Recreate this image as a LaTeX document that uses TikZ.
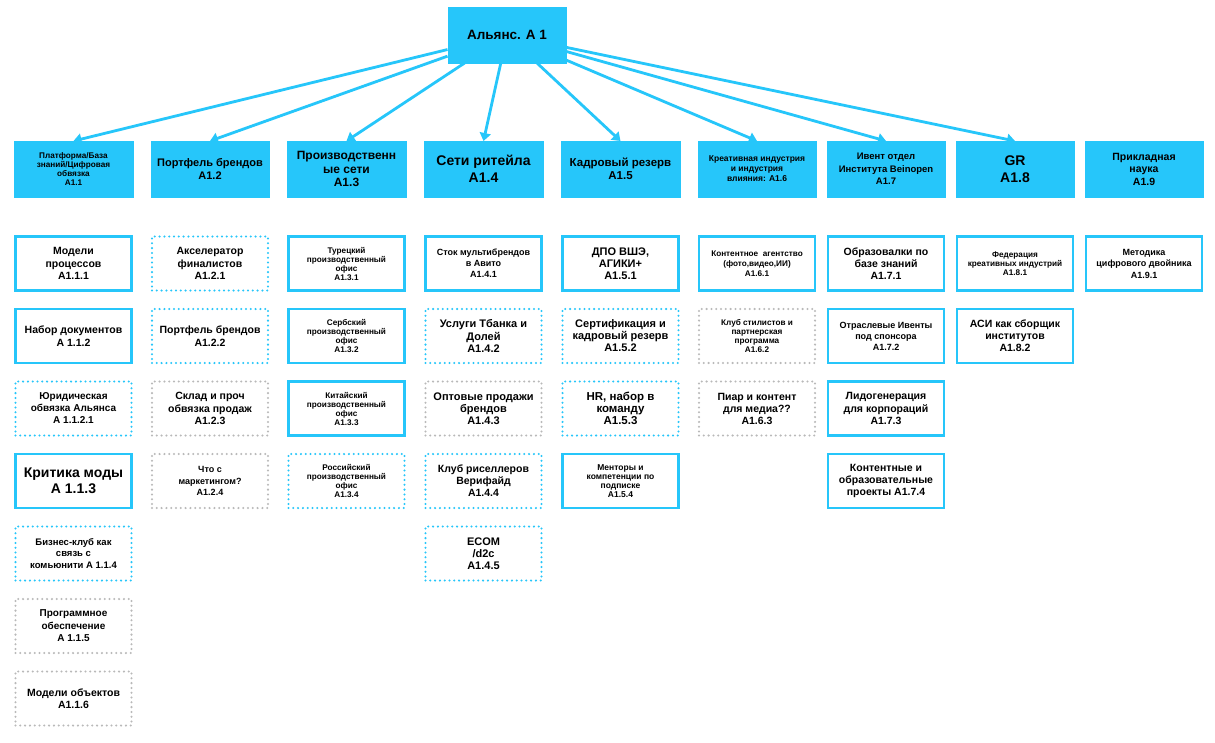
\documentclass[tikz,border=0pt]{standalone}
\usepackage{fontspec}
\setmainfont{Liberation Sans}
\usetikzlibrary{arrows.meta}
\definecolor{acyan}{RGB}{38,198,250}
\definecolor{agrey}{RGB}{185,185,185}
\def\fz#1#2{\fontsize{#1}{#2}\selectfont\bfseries}

\begin{document}
\begin{tikzpicture}[x=1pt,y=-1pt,
    box/.style={align=center,inner sep=1pt,minimum width=116pt,minimum height=54pt},
    head/.style={box,fill=acyan,draw=acyan,line width=0.5pt,minimum width=118.5pt,minimum height=55.5pt},
    full/.style={box,draw=acyan,line width=2.8pt},
    dotc/.style={box,draw=acyan,line width=2.3pt,line cap=round,dash pattern=on 0pt off 4.8pt},
    dotg/.style={dotc,draw=agrey},
    conn/.style={draw=acyan,line width=2.8pt,-{Triangle[length=8pt,width=11pt]}}]
                \fill[white] (0,0) rectangle (1215,742);
                \node[head,font=\fz{13.5}{16}] (al) at (507,35) {Альянс. А 1};
                % first level
                \node[head,font=\fz{8.2}{9}]     (h1) at (73.5,169)  {Платформа/База\\знаний/Цифровая\\обвязка\\A1.1};
                \node[head,font=\fz{11}{13}]     (h2) at (210,169)   {Портфель брендов\\A1.2};
                \node[head,font=\fz{12}{13.5}]   (h3) at (346.5,169) {Производственн\\ые сети\\A1.3};
                \node[head,font=\fz{14}{16.5}]   (h4) at (483.5,169) {Сети ритейла\\A1.4};
                \node[head,font=\fz{11.5}{13}]   (h5) at (620.5,169) {Кадровый резерв\\A1.5};
                \node[head,font=\fz{8.5}{10}]    (h6) at (757,169)   {Креативная индустрия\\и индустрия\\влияния: A1.6};
                \node[head,font=\fz{9.5}{12.5}]  (h7) at (886,169)   {Ивент отдел\\Института Beinopen\\A1.7};
                \node[head,font=\fz{14}{16.5}]   (h8) at (1015,169)  {GR\\A1.8};
                \node[head,font=\fz{10.5}{12.5}] (h9) at (1144,169)  {Прикладная\\наука\\A1.9};
                \foreach \i in {1,...,8} \draw[conn] (al) -- (h\i.north);
                % A1.1
                \node[full,font=\fz{10.5}{12.5}] (n11) at (73.5,263.5) {Модели\\процессов\\A1.1.1};
                \node[full,font=\fz{10.5}{12.5}] (n12) at (73.5,336)   {Набор документов\\A 1.1.2};
                \node[dotc,font=\fz{10}{12}]     (n13) at (73.5,408.5) {Юридическая\\обвязка Альянса\\A 1.1.2.1};
                \node[full,font=\fz{14}{16}]     (n14) at (73.5,481)   {Критика моды\\A 1.1.3};
                \node[dotc,font=\fz{9.5}{11.5}]  (n15) at (73.5,553.5) {Бизнес-клуб как\\связь с\\комьюнити A 1.1.4};
                \node[dotg,font=\fz{10}{12.5}]   (n16) at (73.5,626)   {Программное\\обеспечение\\A 1.1.5};
                \node[dotg,font=\fz{10.5}{12.5}] (n17) at (73.5,698.5) {Модели объектов\\A1.1.6};
                % A1.2
                \node[dotc,font=\fz{10.5}{12.5}] (n21) at (210,263.5) {Акселератор\\финалистов\\A1.2.1};
                \node[dotc,font=\fz{10.5}{12.5}] (n22) at (210,336)   {Портфель брендов\\A1.2.2};
                \node[dotg,font=\fz{10.5}{12.5}] (n23) at (210,408.5) {Склад и проч\\обвязка продаж\\A1.2.3};
                \node[dotg,font=\fz{9}{11.3}]    (n24) at (210,481)   {Что с\\маркетингом?\\A1.2.4};
                % A1.3
                \node[full,font=\fz{8.2}{9}] (n31) at (346.5,263.5) {Турецкий\\производственный\\офис\\A1.3.1};
                \node[full,font=\fz{8.2}{9}] (n32) at (346.5,336)   {Сербский\\производственный\\офис\\A1.3.2};
                \node[full,font=\fz{8.2}{9}] (n33) at (346.5,408.5) {Китайский\\производственный\\офис\\A1.3.3};
                \node[dotc,font=\fz{8.2}{9}] (n34) at (346.5,481)   {Российский\\производственный\\офис\\A1.3.4};
                % A1.4
                \node[full,font=\fz{9}{11}]      (n41) at (483.5,263.5) {Сток мультибрендов\\в Авито\\A1.4.1};
                \node[dotc,font=\fz{11}{12.3}]   (n42) at (483.5,336)   {Услуги Тбанка и\\Долей\\A1.4.2};
                \node[dotg,font=\fz{11}{12}]     (n43) at (483.5,408.5) {Оптовые продажи\\брендов\\A1.4.3};
                \node[dotc,font=\fz{10.5}{12}]   (n44) at (483.5,481)   {Клуб риселлеров\\Верифайд\\A1.4.4};
                \node[dotc,font=\fz{11}{12}]     (n45) at (483.5,553.5) {ECOM\\/d2c\\A1.4.5};
                % A1.5
                \node[full,font=\fz{11}{12}]     (n51) at (620.5,263.5) {ДПО ВШЭ,\\АГИКИ+\\A1.5.1};
                \node[dotc,font=\fz{11}{12}]     (n52) at (620.5,336)   {Сертификация и\\кадровый резерв\\A1.5.2};
                \node[dotc,font=\fz{11.5}{12}]   (n53) at (620.5,408.5) {HR, набор в\\команду\\A1.5.3};
                \node[full,font=\fz{8.5}{9}]     (n54) at (620.5,481)   {Менторы и\\компетенции по\\подписке\\A1.5.4};
                % A1.6
                \node[full,font=\fz{8.2}{10}]    (n61) at (757,263.5) {Контентное\ \ агентство\\(фото,видео,ИИ)\\A1.6.1};
                \node[dotg,font=\fz{8.2}{8.7}]   (n62) at (757,336)   {Клуб стилистов и\\партнерская\\программа\\A1.6.2};
                \node[dotg,font=\fz{10.5}{12}]   (n63) at (757,408.5) {Пиар и контент\\для медиа??\\A1.6.3};
                % A1.7
                \node[full,font=\fz{10.5}{12.3}] (n71) at (886,263.5) {Образовалки по\\базе знаний\\A1.7.1};
                \node[full,font=\fz{9}{11}]      (n72) at (886,336)   {Отраслевые Ивенты\\под спонсора\\A1.7.2};
                \node[full,font=\fz{10.5}{12.5}] (n73) at (886,408.5) {Лидогенерация\\для корпораций\\A1.7.3};
                \node[full,font=\fz{10.5}{12}]   (n74) at (886,481)   {Контентные и\\образовательные\\проекты A1.7.4};
                % A1.8, A1.9
                \node[full,font=\fz{8.2}{9}]     (n81) at (1015,263.5) {Федерация\\креативных индустрий\\A1.8.1};
                \node[full,font=\fz{10.5}{12}]   (n82) at (1015,336)   {АСИ как сборщик\\институтов\\A1.8.2};
                \node[full,font=\fz{9}{11.5}]    (n91) at (1144,263.5) {Методика\\цифрового двойника\\A1.9.1};
            \end{tikzpicture}
\end{document}
